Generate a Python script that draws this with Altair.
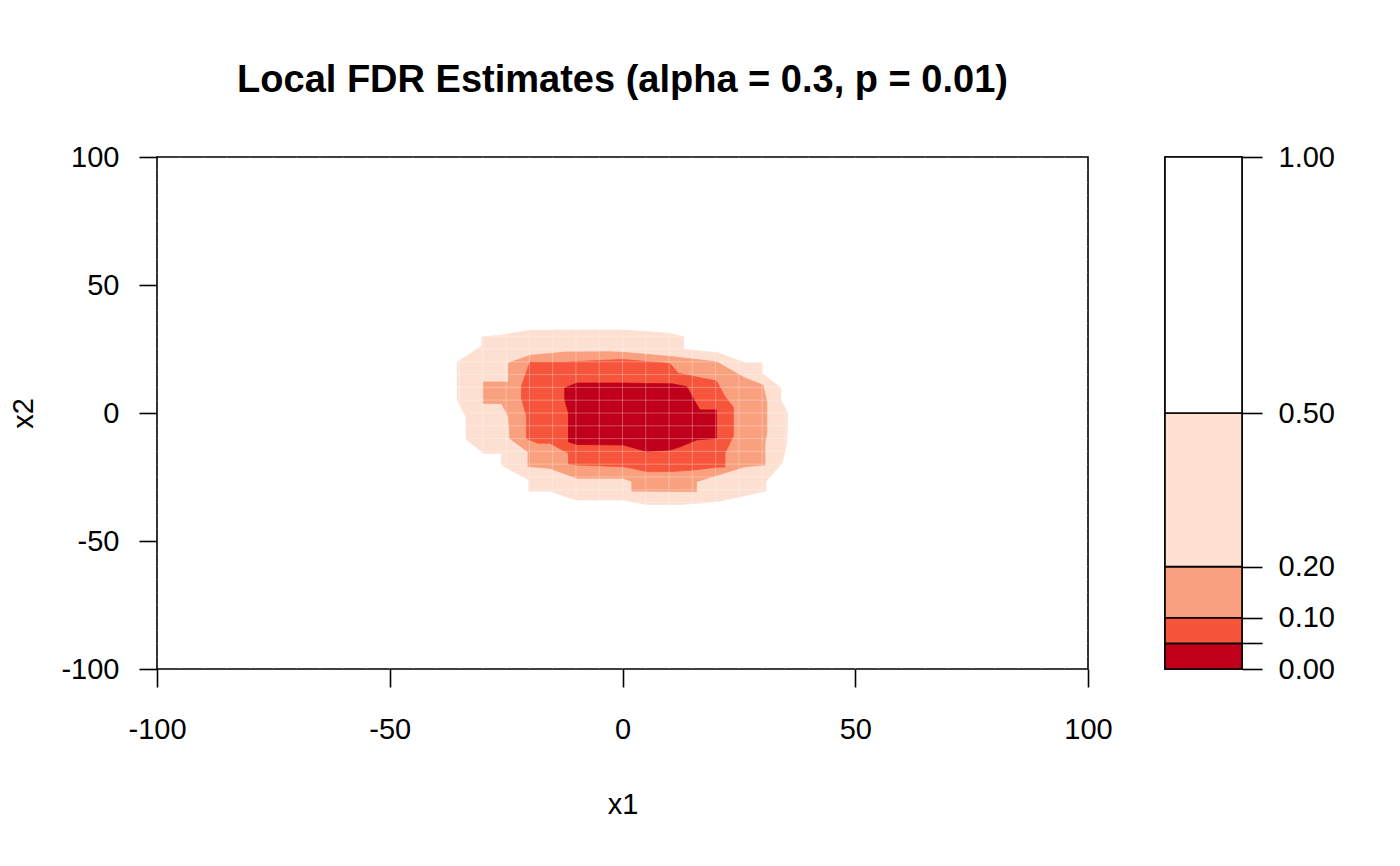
import altair as alt
import pandas as pd

TITLE = "Local FDR Estimates (alpha = 0.3, p = 0.01)"
FONT = "Liberation Sans"

# contour region FDR <= 0.5 (outer, light peach)
lv50_x = [-30.2, -26.0, -19.9, 0.2, 10.2, 13.1, 13.1, 15.9, 20.2, 26.5, 30.0, 30.0, 34.0, 34.0,
          35.5, 35.3, 34.3, 30.8, 30.8, 20.2, 15.9, 12.6, 5.2, 0.2, -9.8, -12.1, -15.6, -20.1,
          -20.1, -26.0, -26.0, -29.9, -33.6, -33.6, -35.5, -35.5, -30.2]
lv50_y = [29.7, 30.4, 32.3, 32.4, 31.1, 29.8, 24.9, 24.3, 23.6, 19.5, 19.5, 15.4, 9.8, 5.1,
          0.0, -11.7, -19.5, -26.8, -30.5, -34.6, -35.3, -35.7, -35.7, -34.0, -34.0, -32.7, -30.5, -30.5,
          -26.2, -20.3, -15.7, -15.7, -10.2, -1.6, 5.1, 19.9, 26.2]
# FDR <= 0.2 (salmon)
lv20_x = [-24.5, -19.9, -12.4, -2.7, 0.2, 10.2, 20.2, 26.3, 30.2, 31.0, 31.0, 30.6, 30.6, 26.3,
          15.9, 15.9, 2.0, 2.0, 0.2, -9.8, -15.6, -20.3, -20.3, -24.2, -24.5, -26.0, -29.9, -29.9, -24.5]
lv20_y = [19.5, 22.5, 23.8, 23.9, 23.7, 22.1, 20.0, 13.7, 10.9, 4.4, -7.8, -11.7, -20.3, -21.0,
          -26.8, -30.7, -30.5, -26.8, -25.5, -25.5, -21.6, -20.9, -15.2, -10.0, -1.4, 3.7, 3.7, 12.1, 12.1]
# FDR <= 0.1 (red-orange)
lv10_x = [-19.9, -12.4, 0.1, 10.2, 12.0, 20.2, 22.0, 23.8, 23.8, 22.0, 22.0, 20.2, 15.1, 10.2,
          5.2, 2.0, 0.2, -9.8, -11.6, -11.6, -15.6, -18.2, -20.6, -20.6, -21.7, -21.7]
lv10_y = [19.9, 19.9, 20.9, 19.3, 15.5, 12.5, 6.4, 2.3, -9.0, -15.7, -21.1, -21.2, -22.3, -22.9,
          -22.9, -21.6, -21.0, -20.3, -19.9, -15.7, -11.8, -11.8, -10.0, -1.4, 5.7, 10.5]
# FDR <= 0.05 (dark red)
lv05_x = [-12.4, -9.8, 0.2, 5.2, 10.6, 13.8, 15.2, 16.6, 20.2, 20.2, 15.9, 12.4, 10.2, 5.2,
          0.2, -9.8, -11.6, -11.6, -12.4]
lv05_y = [9.8, 11.7, 11.7, 11.5, 11.4, 10.3, 5.7, 1.2, 1.2, -9.9, -10.5, -13.2, -14.5, -15.0,
          -12.5, -12.3, -11.3, 0.0, 5.1]

level_colors = ["#C0001A", "#F6553B", "#F9A07F", "#FDE0D2", "#FFFFFF"]
breaks = [0.0, 0.05, 0.1, 0.2, 0.5, 1.0]
axis_ticks = [-100, -50, 0, 50, 100]
legend_ticks = [0.0, 0.05, 0.1, 0.2, 0.5, 1.0]
seams = list(range(-95, 100, 5))

xscale = alt.Scale(domain=[-100, 100], nice=False, zero=False)
yscale = alt.Scale(domain=[-100, 100], nice=False, zero=False)
xaxis = alt.Axis(values=axis_ticks, title="x1", labelExpr="datum.value + ''",
                 labelPadding=28, titlePadding=46, labelFlush=False)
yaxis = alt.Axis(values=axis_ticks, title="x2", labelExpr="datum.value + ''",
                 labelPadding=20, titlePadding=22, labelFlush=False)


def poly(xs, ys, color):
    xs = list(xs) + [xs[0]]
    ys = list(ys) + [ys[0]]
    df = pd.DataFrame({"x": xs, "y": ys, "o": list(range(len(xs)))})
    return alt.Chart(df).mark_line(fill=color, stroke=color, strokeWidth=0.8).encode(
        x=alt.X("x:Q", scale=xscale, axis=xaxis),
        y=alt.Y("y:Q", scale=yscale, axis=yaxis),
        order="o:Q",
    )


seam_df = pd.DataFrame({"s": seams})
vseams = alt.Chart(seam_df).mark_rule(color="white", strokeWidth=1, opacity=0.3).encode(
    x=alt.X("s:Q", scale=xscale, axis=xaxis))
hseams = alt.Chart(seam_df).mark_rule(color="white", strokeWidth=1, opacity=0.3).encode(
    y=alt.Y("s:Q", scale=yscale, axis=yaxis))

main = alt.layer(
    poly(lv50_x, lv50_y, level_colors[3]),
    poly(lv20_x, lv20_y, level_colors[2]),
    poly(lv10_x, lv10_y, level_colors[1]),
    poly(lv05_x, lv05_y, level_colors[0]),
    vseams, hseams,
).properties(width=931, height=512, title=TITLE)

leg_df = pd.DataFrame({"lo": breaks[:-1], "hi": breaks[1:], "c": level_colors})
legend = alt.Chart(leg_df).mark_rect(stroke="black", strokeWidth=1.6).encode(
    x=alt.value(0), x2=alt.value(77),
    y=alt.Y("lo:Q", scale=alt.Scale(domain=[0, 1], nice=False, zero=False),
            axis=alt.Axis(orient="right", values=legend_ticks, title=None,
                          labelExpr="datum.value == 0.05 ? '' : format(datum.value, '.2f')",
                          labelPadding=16, tickSize=20, labelFlush=False)),
    y2="hi:Q",
    fill=alt.Fill("c:N", scale=None),
).properties(width=77, height=512)

chart = alt.hconcat(main, legend, spacing=50).properties(
    padding={"left": 9, "top": 61, "right": 5, "bottom": 5},
    background="white",
).configure_axis(
    labelFont=FONT, titleFont=FONT, labelFontSize=29, titleFontSize=29,
    labelColor="black", titleColor="black", titleFontWeight="normal",
    tickColor="black", tickWidth=1.6, tickSize=18, domain=False, grid=False,
).configure_view(stroke="black", strokeWidth=1.6).configure_title(
    font=FONT, fontSize=38, fontWeight="bold", anchor="middle", offset=43, color="black"
)

chart.save("out.html", embed_options={"renderer": "svg", "actions": False})
